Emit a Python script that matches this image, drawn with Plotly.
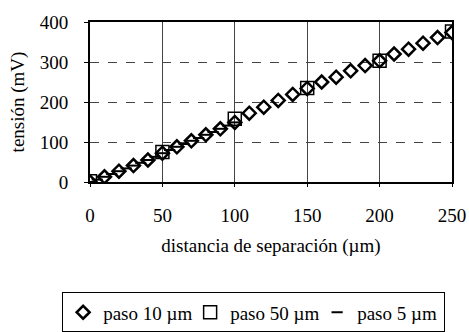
import plotly.graph_objects as go

# data
dist_10 = [0, 10, 20, 30, 40, 50, 60, 70, 80, 90, 100, 110, 120, 130, 140, 150,
           160, 170, 180, 190, 200, 210, 220, 230, 240, 250]
volt_10 = [0, 13, 27, 41, 55, 72, 88, 103, 118, 133, 149, 172, 187, 204, 219, 234,
           250, 262, 278, 291, 303, 320, 332, 347, 361, 374]
dist_50 = [0, 50, 100, 150, 200, 250]
volt_50 = [2, 75, 158, 235, 303, 376]
dist_5 = [0, 5, 10, 15, 20, 25, 30, 35, 40, 45, 50, 55, 60, 65, 70, 75, 80, 85, 90, 95, 100]
volt_5 = [0, 6, 13, 20, 27, 34, 41, 48, 55, 63, 72, 80, 88, 95, 103, 110, 118, 125, 133, 141, 149]

x_ticks = [0, 50, 100, 150, 200, 250]
y_ticks = [0, 100, 200, 300, 400]

FONT = "Liberation Serif"

fig = go.Figure()
fig.add_trace(go.Scatter(
    x=dist_10, y=volt_10, mode="markers", name="paso 10 µm",
    marker=dict(symbol="diamond-open", size=10, color="black", line=dict(width=2.5, color="black")),
))
fig.add_trace(go.Scatter(
    x=dist_50, y=volt_50, mode="markers", name="paso 50 µm",
    marker=dict(symbol="square-open", size=13, color="black", line=dict(width=1.5, color="black")),
))
fig.add_trace(go.Scatter(
    x=dist_5, y=volt_5, mode="markers", name="paso 5 µm",
    marker=dict(symbol="line-ew", size=8, color="black", line=dict(width=2, color="black")),
))

fig.update_layout(
    width=469, height=332,
    margin=dict(l=90, r=17, t=22, b=150, autoexpand=False),
    paper_bgcolor="white", plot_bgcolor="white",
    font=dict(family=FONT, size=19, color="black"),
    showlegend=True,
    legend=dict(
        orientation="h", x=-0.077, xanchor="left", y=-0.69, yanchor="top",
        bordercolor="black", borderwidth=1, font=dict(family=FONT, size=19),
        itemwidth=30, tracegroupgap=0, entrywidth=82, entrywidthmode="pixels",
    ),
)
fig.update_xaxes(
    range=[0, 250], tickvals=x_ticks, ticktext=[str(v) for v in x_ticks],
    showgrid=True, gridcolor="#444", gridwidth=1,
    showline=True, linecolor="black", linewidth=1.5, mirror=True,
    ticks="outside", ticklen=3, tickcolor="black", ticklabelstandoff=12,
    title=dict(text="distancia de separación (µm)", font=dict(family=FONT, size=19), standoff=14),
    tickfont=dict(family=FONT, size=19), automargin=False,
    zeroline=False,
)
fig.update_yaxes(
    range=[0, 400], tickvals=y_ticks, ticktext=[str(v) for v in y_ticks],
    showgrid=True, gridcolor="#444", gridwidth=1, griddash="dash",
    showline=True, linecolor="black", linewidth=2, mirror=True,
    ticks="outside", ticklen=4, tickcolor="black", ticklabelstandoff=12,
    title=dict(text="tensión (mV)", font=dict(family=FONT, size=19), standoff=10),
    tickfont=dict(family=FONT, size=19), automargin=False,
    zeroline=False,
)

fig.write_html("out.html", config={"displayModeBar": False},
               post_script="document.body.style.margin='0';document.body.style.overflow='hidden';")
